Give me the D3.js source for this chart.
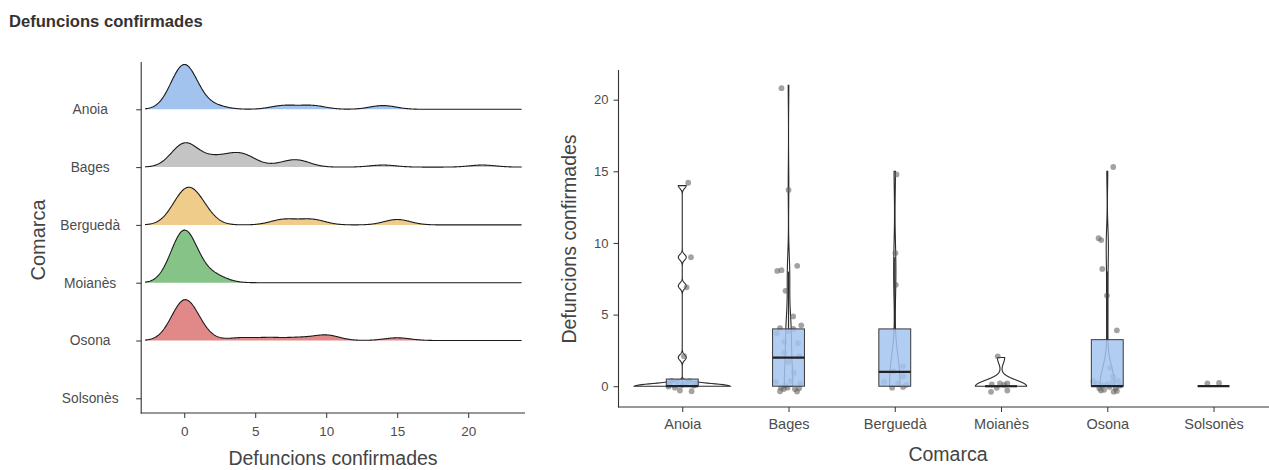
<!DOCTYPE html>
<html>
<head>
<meta charset="utf-8">
<script src="https://cdn.jsdelivr.net/npm/d3@7"></script>
<style>
  body { margin: 0; background: #fff; }
  svg { display: block; font-family: "Liberation Sans", Arial, sans-serif; }
</style>
</head>
<body>
<svg id="chart" width="1269" height="470"></svg>
<script>
'use strict';

const comarques = ['Anoia', 'Bages', 'Berguedà', 'Moianès', 'Osona', 'Solsonès'];

// defuncions confirmades per registre (llegides del gràfic)
const anoia    = [0,0,0,0,0,0,0,0,0,0,0,0, 2, 7, 9, 14];
const bages    = [0,0,0,0,0,0,0,0,0,0,0, 1, 2,2,2, 3,3, 4,4,4,4,4, 5, 7, 8,8,8, 14, 21];
const bergueda = [0,0,0,0,0, 1,1,1, 7, 9, 15];
const moianes  = [0,0,0,0,0,0,0, 2];
const osona    = [0,0,0,0,0,0,0,0,0,0,0,0,0,0, 1,1, 4, 6, 8, 10,10, 15];
const solsones = [0, 0];

// desplaçament dels punts (jitter) tal com surten: [dx en categories, dy en defuncions]
const anoiaJitter = [[-0.069,-0.10],[-0.022,-0.30],[0.088,-0.35],[-0.12,0.15],[0.04,0.25],[0.11,0.05],
  [-0.05,0.32],[0.13,0.2],[-0.1,0.38],[0.0,0.1],[0.07,0.35],[-0.13,-0.02],
  [0.016,0.10],[0.041,-0.10],[0.082,0.0],[0.056,0.20]];
const bagesJitter = [[-0.08,-0.35],[-0.045,-0.2],[-0.01,-0.1],[0.06,-0.2],[0.08,-0.37],[-0.07,-0.1],
  [0.11,0.2],[-0.12,0.3],[0.02,0.35],[0.1,-0.15],[-0.03,0.05],
  [0.05,-0.07],
  [-0.04,0.35],[0.1,0.1],[0.0,-0.3],
  [-0.04,0.1],[0.09,0.0],
  [-0.08,0.06],[0.045,0.0],[-0.11,-0.3],[0.12,0.25],[0.0,-0.15],
  [0.044,-0.13],[-0.028,-0.34],[-0.106,0.05],[-0.066,0.1],[0.082,0.4],[0.0,-0.3],[-0.066,-0.2]];
const berguedaJitter = [[-0.025,-0.1],[0.078,-0.05],[0.03,0.2],[-0.1,0.3],[0.11,0.1],
  [0.078,0.39],[0.078,-0.3],[-0.016,0.04],[0.01,0.08],[0.006,0.28],[0.016,-0.22]];
const moianesJitter = [[-0.094,-0.39],[-0.04,-0.11],[-0.01,0.19],[0.059,0.19],[0.059,-0.3],[-0.087,0.12],
  [0.03,0.1],[-0.031,0.09]];
const osonaJitter = [[-0.075,-0.15],[-0.06,-0.3],[0.08,-0.15],[0.09,-0.33],[-0.03,-0.25],[0.02,-0.05],
  [0.05,0.3],[-0.1,0.2],[0.12,0.05],[-0.13,0.35],[0.0,0.15],[0.1,0.38],[-0.05,0.1],[0.06,-0.38],
  [0.027,0.28],[0.056,-0.33],[0.09,-0.1],[-0.003,0.33],[-0.047,0.19],[-0.082,0.33],[-0.057,0.2],[0.056,0.3]];
const solsonesJitter = [[-0.058,0.19],[0.052,0.23]];

const ridgeColors = ['#a3c3ef', '#c4c4c4', '#f0cc8b', '#86c387', '#e18889', '#b0b0b0'];
const xTicksLeft = [0, 5, 10, 15, 20];
const yTicksRight = [0, 5, 10, 15, 20];

const defuncions = [anoia, bages, bergueda, moianes, osona, solsones];
const jitters = [anoiaJitter, bagesJitter, berguedaJitter, moianesJitter, osonaJitter, solsonesJitter];

const JOINT_BW = 0.92;  // amplada de banda conjunta de les crestes

// utilitats de densitat
const gauss = (u) => Math.exp(-0.5 * u * u) / Math.sqrt(2 * Math.PI);
function kde(values, bw, grid) {
  return grid.map(x => [x, d3.sum(values, v => gauss((x - v) / bw)) / (values.length * bw)]);
}
function bwNrd0(values) {
  const s = values.slice().sort(d3.ascending);
  const hi = d3.deviation(s);
  let lo = Math.min(hi, (d3.quantileSorted(s, 0.75) - d3.quantileSorted(s, 0.25)) / 1.34);
  if (!lo) lo = hi || Math.abs(s[0]) || 1;
  return 0.9 * lo * Math.pow(s.length, -0.2);
}

const svg = d3.select('#chart');
const tickColor = '#4d4d4d';
const lineColor = '#333';

svg.append('text')
  .attr('x', 9).attr('y', 27)
  .attr('font-size', '16.6px').attr('font-weight', 'bold').attr('fill', '#333')
  .text('Defuncions confirmades');

// ---------- crestes (esquerra) ----------
const left = svg.append('g');
const xL = d3.scaleLinear().domain([-3.03, 24.0]).range([141.2, 525]);
const yL = d3.scalePoint().domain(comarques).range([109.3, 398.3]);
const rowStep = yL.step();

const allValues = defuncions.flat();
const gridL = d3.range(513).map(i => d3.min(allValues) - 3 * JOINT_BW
  + i * (d3.max(allValues) - d3.min(allValues) + 6 * JOINT_BW) / 512);
const ridges = comarques.map((c, i) => ({
  comarca: c,
  color: ridgeColors[i],
  dens: defuncions[i].length >= 3 ? kde(defuncions[i], JOINT_BW, gridL) : null,
})).filter(d => d.dens);
const maxDens = d3.max(ridges, r => d3.max(r.dens, d => d[1]));
const hScale = d3.scaleLinear().domain([0, maxDens]).range([0, 0.91 * rowStep]);

// de baix a dalt perquè la cresta superior quedi darrere
ridges.slice().reverse().forEach(r => {
  const base = yL(r.comarca);
  left.append('path')
    .datum(r.dens)
    .attr('fill', r.color)
    .attr('d', d3.area().x(d => xL(d[0])).y0(base).y1(d => base - hScale(d[1])));
  left.append('path')
    .datum(r.dens)
    .attr('fill', 'none').attr('stroke', '#1a1a1a').attr('stroke-width', 1.1)
    .attr('d', d3.line().x(d => xL(d[0])).y(d => base - hScale(d[1])));
});

// eixos
left.append('line').attr('x1', 141.2).attr('x2', 141.2).attr('y1', 62).attr('y2', 413.5)
  .attr('stroke', lineColor).attr('stroke-width', 1.1);
left.append('line').attr('x1', 140.6).attr('x2', 525).attr('y1', 413).attr('y2', 413)
  .attr('stroke', lineColor).attr('stroke-width', 1.1);

const axL = left.append('g').attr('transform', 'translate(141.2,0)')
  .call(d3.axisLeft(yL).tickSize(5).tickSizeOuter(0));
axL.select('.domain').remove();
axL.selectAll('line').attr('stroke', lineColor);
axL.selectAll('text').attr('x', -51).attr('text-anchor', 'middle')
  .attr('font-size', '13.8px').attr('fill', tickColor).attr('font-family', null);

const axLb = left.append('g').attr('transform', 'translate(0,413)')
  .call(d3.axisBottom(xL).tickValues(xTicksLeft).tickSize(5).tickSizeOuter(0).tickPadding(8));
axLb.select('.domain').remove();
axLb.selectAll('line').attr('stroke', lineColor);
axLb.selectAll('text').attr('font-size', '13.5px').attr('fill', tickColor).attr('font-family', null);

left.append('text')
  .attr('x', 333).attr('y', 465).attr('text-anchor', 'middle')
  .attr('font-size', '19.5px').attr('fill', '#444')
  .text('Defuncions confirmades');
left.append('text')
  .attr('transform', 'translate(45,240) rotate(-90)').attr('text-anchor', 'middle')
  .attr('font-size', '20px').attr('fill', '#444')
  .text('Comarca');

// ---------- violí + caixa (dreta) ----------
const right = svg.append('g');
const xR = d3.scalePoint().domain(comarques).range([618.5, 1277.3]).padding(0.6);
const yR = d3.scaleLinear().domain([-1.45, 22.07]).range([407, 70]);
const unit = xR.step();

const groups = comarques.map((c, i) => {
  const s = defuncions[i].slice().sort(d3.ascending);
  const q1 = d3.quantileSorted(s, 0.25), med = d3.quantileSorted(s, 0.5), q3 = d3.quantileSorted(s, 0.75);
  const iqr = q3 - q1;
  const lo = d3.min(s.filter(v => v >= q1 - 1.5 * iqr));
  const hi = d3.max(s.filter(v => v <= q3 + 1.5 * iqr));
  let violin = null;
  if (s[s.length - 1] > s[0]) {
    const bw = bwNrd0(s);
    const grid = d3.range(512).map(k => s[0] + k * (s[s.length - 1] - s[0]) / 511);
    violin = kde(s, bw, grid);
  }
  return { comarca: c, values: defuncions[i], jitter: jitters[i], q1, med, q3, lo, hi, violin };
});
const maxViolin = d3.max(groups, g => g.violin ? d3.max(g.violin, d => d[1]) : 0);
const vWidth = d3.scaleLinear().domain([0, maxViolin]).range([0, 0.9 * unit / 2]);

groups.forEach(g => {
  if (!g.violin) return;
  const cx = xR(g.comarca);
  right.append('path')
    .datum(g.violin)
    .attr('fill', '#fff').attr('stroke', '#2b2b2b').attr('stroke-width', 1.1)
    .attr('d', d3.area().y(d => yR(d[0])).x0(d => cx - vWidth(d[1])).x1(d => cx + vWidth(d[1])));
});

groups.forEach(g => {
  const cx = xR(g.comarca);
  right.selectAll(null)
    .data(g.values.map((v, k) => ({ v, j: g.jitter[k] })))
    .enter().append('circle')
    .attr('cx', d => cx + d.j[0] * unit)
    .attr('cy', d => yR(d.v + d.j[1]))
    .attr('r', 2.9)
    .attr('fill', '#666').attr('fill-opacity', 0.6);
});

groups.forEach(g => {
  const cx = xR(g.comarca);
  const hw = 0.15 * unit;
  right.append('line')
    .attr('x1', cx).attr('x2', cx).attr('y1', yR(g.q3)).attr('y2', yR(g.hi))
    .attr('stroke', '#2b2b2b').attr('stroke-width', 1.2);
  right.append('line')
    .attr('x1', cx).attr('x2', cx).attr('y1', yR(g.q1)).attr('y2', yR(g.lo))
    .attr('stroke', '#2b2b2b').attr('stroke-width', 1.2);
  right.append('rect')
    .attr('x', cx - hw).attr('width', 2 * hw)
    .attr('y', yR(g.q3)).attr('height', yR(g.q1) - yR(g.q3))
    .attr('fill', '#a4c4f0').attr('fill-opacity', 0.85)
    .attr('stroke', '#3a3a3a').attr('stroke-width', 1);
  right.append('line')
    .attr('x1', cx - hw).attr('x2', cx + hw).attr('y1', yR(g.med)).attr('y2', yR(g.med))
    .attr('stroke', '#222').attr('stroke-width', 2.2);
});

right.append('line').attr('x1', 618.5).attr('x2', 618.5).attr('y1', 70).attr('y2', 407.5)
  .attr('stroke', lineColor).attr('stroke-width', 1.1);
right.append('line').attr('x1', 618).attr('x2', 1277).attr('y1', 407).attr('y2', 407)
  .attr('stroke', lineColor).attr('stroke-width', 1.1);

const axRl = right.append('g').attr('transform', 'translate(618.5,0)')
  .call(d3.axisLeft(yR).tickValues(yTicksRight).tickSize(5).tickSizeOuter(0).tickPadding(5));
axRl.select('.domain').remove();
axRl.selectAll('line').attr('stroke', lineColor);
axRl.selectAll('text').attr('font-size', '13px').attr('fill', tickColor).attr('font-family', null);

const axRb = right.append('g').attr('transform', 'translate(0,407)')
  .call(d3.axisBottom(xR).tickSize(5).tickSizeOuter(0).tickPadding(7));
axRb.select('.domain').remove();
axRb.selectAll('line').attr('stroke', lineColor);
axRb.selectAll('text').attr('font-size', '14.5px').attr('fill', tickColor).attr('font-family', null);

right.append('text')
  .attr('x', 948).attr('y', 461).attr('text-anchor', 'middle')
  .attr('font-size', '19.5px').attr('fill', '#444')
  .text('Comarca');
right.append('text')
  .attr('transform', 'translate(576,239) rotate(-90)').attr('text-anchor', 'middle')
  .attr('font-size', '19.5px').attr('fill', '#444')
  .text('Defuncions confirmades');
</script>
</body>
</html>
